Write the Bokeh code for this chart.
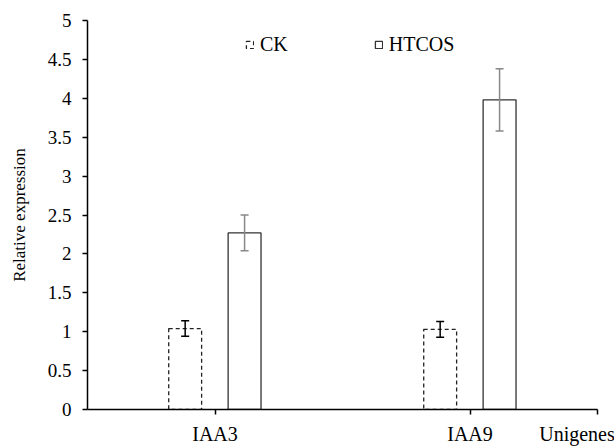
import numpy as np
from bokeh.plotting import figure
from bokeh.models import (ColumnDataSource, Range1d, FixedTicker, Whisker, TeeHead,
                          Legend, LegendItem)
from bokeh.embed import file_html
from bokeh.resources import INLINE

genes = ["IAA3", "IAA9"]
ck_values = [1.04, 1.03]
ck_errors = [0.10, 0.10]
htcos_values = [2.27, 3.98]
htcos_errors = [0.23, 0.40]
y_ticks = [0, 0.5, 1, 1.5, 2, 2.5, 3, 3.5, 4, 4.5, 5]
x_axis_title = "Unigenes"
y_axis_title = "Relative expression"

FONT = "Liberation Serif"

n = len(genes)
centers = np.arange(n) + 0.5
ck_x = centers - 0.117
ht_x = centers + 0.116
bar_w = 0.129

ck_src = ColumnDataSource(dict(x=ck_x, top=ck_values,
                               upper=np.array(ck_values) + np.array(ck_errors),
                               lower=np.array(ck_values) - np.array(ck_errors)))
ht_src = ColumnDataSource(dict(x=ht_x, top=htcos_values,
                               upper=np.array(htcos_values) + np.array(htcos_errors),
                               lower=np.array(htcos_values) - np.array(htcos_errors)))

# frame spans to the right edge; the axis itself stops at n
p = figure(width=614, height=447, output_backend="svg", toolbar_location=None,
           x_range=Range1d(0, n * 527 / 510), y_range=Range1d(0, 5),
           min_border_left=87, min_border_right=0, min_border_top=20, min_border_bottom=38)
p.outline_line_color = None
p.xgrid.grid_line_color = None
p.ygrid.grid_line_color = None

ck_r = p.vbar(x="x", top="top", width=bar_w, source=ck_src, fill_color="white",
              line_color="#222222", line_width=1.3, line_dash="4 3")
ht_r = p.vbar(x="x", top="top", width=bar_w, source=ht_src, fill_color="white",
              line_color="#333333", line_width=1.3)

p.add_layout(Whisker(source=ck_src, base="x", upper="upper", lower="lower", level="overlay",
                     line_color="black", line_width=1.5,
                     upper_head=TeeHead(size=8, line_color="black", line_width=1.5),
                     lower_head=TeeHead(size=8, line_color="black", line_width=1.5)))
p.add_layout(Whisker(source=ht_src, base="x", upper="upper", lower="lower", level="overlay",
                     line_color="#888888", line_width=1.5,
                     upper_head=TeeHead(size=8, line_color="#888888", line_width=1.5),
                     lower_head=TeeHead(size=8, line_color="#888888", line_width=1.5)))

# y axis
ya = p.yaxis[0]
ya.ticker = FixedTicker(ticks=y_ticks)
ya.major_label_overrides = {t: ("%g" % t) for t in y_ticks}
ya.axis_line_width = 1.5
ya.axis_line_color = "black"
ya.major_tick_in = 0
ya.major_tick_out = 5
ya.major_tick_line_width = 1.5
ya.minor_tick_line_color = None
ya.major_label_text_font = FONT
ya.major_label_text_font_size = "19px"
ya.major_label_text_color = "black"
ya.major_label_standoff = 11
ya.axis_label = y_axis_title
ya.axis_label_text_font = FONT
ya.axis_label_text_font_size = "17px"
ya.axis_label_text_font_style = "normal"
ya.axis_label_text_color = "black"
ya.axis_label_standoff = 16

# x axis
xa = p.xaxis[0]
xa.bounds = (0, n)
xa.ticker = FixedTicker(ticks=list(centers) + [float(n)])
overrides = {float(c): g for c, g in zip(centers, genes)}
overrides[float(n)] = ""
xa.major_label_overrides = overrides
xa.axis_line_width = 1.5
xa.axis_line_color = "black"
xa.major_tick_in = 0
xa.major_tick_out = 5
xa.major_tick_line_width = 1.5
xa.minor_tick_line_color = None
xa.major_label_text_font = FONT
xa.major_label_text_font_size = "20px"
xa.major_label_text_color = "black"
xa.major_label_standoff = 8
# title centred on the frame end: pad with no-break spaces so the word starts where the reference's does
xa.axis_label = x_axis_title + "\u00a0" * 15
xa.axis_label_align = "end"
xa.axis_label_text_font = FONT
xa.axis_label_text_font_size = "20px"
xa.axis_label_text_font_style = "normal"
xa.axis_label_text_color = "black"
xa.axis_label_standoff = -25

legend = Legend(items=[LegendItem(label="CK", renderers=[ck_r]),
                       LegendItem(label="HTCOS", renderers=[ht_r])],
                orientation="horizontal", location=(158, 353),
                glyph_width=9, glyph_height=9, label_standoff=6, spacing=86,
                padding=0, margin=0, border_line_color=None, background_fill_alpha=0,
                label_text_font=FONT, label_text_font_size="20px", label_text_color="black")
p.add_layout(legend, "center")

open("out.html", "w").write(file_html(p, INLINE))
